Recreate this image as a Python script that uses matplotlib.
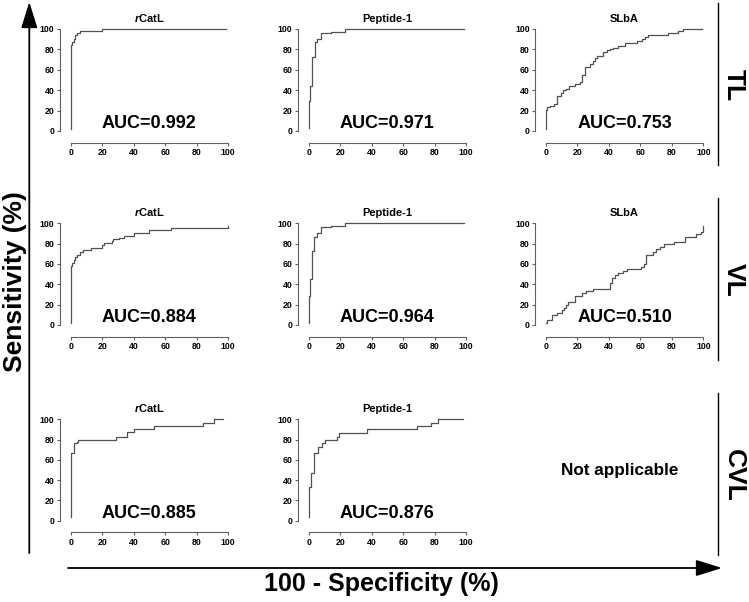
import numpy as np
import matplotlib
matplotlib.use("Agg")
import matplotlib.pyplot as plt
from matplotlib.patches import FancyArrowPatch
from matplotlib.lines import Line2D

plt.rcParams['font.family'] = ['Liberation Sans', 'DejaVu Sans']
plt.rcParams['font.weight'] = 'bold'
plt.rcParams['mathtext.fontset'] = 'custom'
plt.rcParams['mathtext.it'] = 'Liberation Sans:italic:bold'
plt.rcParams['mathtext.rm'] = 'Liberation Sans:bold'

# ROC staircase points (100 - specificity, sensitivity); each point = top of a vertical jump
tl_catl_x = [0, 0, 1, 2, 3, 4, 6, 20, 99]
tl_catl_y = [2, 84, 87, 90, 94, 96, 98, 100, 100]
tl_pep_x = [0, 0, 1, 2, 4, 5, 8, 14, 23, 99]
tl_pep_y = [3, 29, 44, 73, 87, 90, 96, 97.5, 100, 100]
tl_slba_x = [0, 0, 0.8, 2.5, 5.3, 6.8, 9.3, 10.6, 12.7, 14.4, 18.6, 21.6, 22.7, 24.8, 28, 29.7,
             31.4, 32.6, 36.4, 38.6, 40.7, 42.8, 46, 50.2, 57.6, 60.8, 62.9, 65, 77.8, 84, 87.3, 99]
tl_slba_y = [2, 21, 23.6, 25, 26.5, 34, 37, 40, 41, 44, 46, 48, 55, 63, 66, 69,
             72, 74, 77, 79, 80, 81.5, 83, 86.6, 88, 90, 92, 94, 96, 98, 100, 100]

vl_catl_x = [0, 0, 1, 2, 3, 4, 6, 8, 13, 20, 21, 26, 27, 31, 34, 40, 50, 64, 100]
vl_catl_y = [2, 58, 61, 64, 67, 69, 72, 74, 76, 79, 81, 83, 85, 86, 88, 90, 93, 95.5, 97]
vl_pep_x = [0, 0, 1, 2, 3.6, 5, 8, 14, 23, 99]
vl_pep_y = [2, 29, 45, 73, 87, 90, 96, 97.5, 100, 100]
vl_slba_x = [0, 0.8, 3.6, 6.8, 9.9, 11.4, 13, 14.3, 18.4, 22.6, 25.7, 30, 41, 41.8, 43.7, 45.8,
             48.9, 51.5, 60.5, 62, 63.7, 68, 70, 72.6, 75.3, 81.6, 88.6, 95.4, 98.5, 100]
vl_slba_y = [2, 5, 10, 12, 15, 17, 20, 23, 29, 31, 33, 35, 41, 46, 49, 51,
             53, 55, 57, 60, 69, 72, 75, 77, 80, 82, 87, 89, 91, 97]

cvl_catl_x = [0, 0, 2.1, 3.8, 4.8, 29, 35.7, 40, 53, 84, 91, 97]
cvl_catl_y = [4, 66.4, 76.6, 78, 80, 83, 87, 90, 93, 96.7, 100, 100]
cvl_pep_x = [0, 0, 1.7, 3.6, 6.1, 8.3, 10.4, 17.8, 19.5, 37.3, 68.6, 77.5, 82.4, 98]
cvl_pep_y = [4, 33.5, 46.7, 66.4, 73, 76.6, 80, 83, 86.7, 90, 93, 96.7, 100, 100]

titles = [r'$\it{r}$CatL', 'Peptide-1', 'SLbA']
groups = ['TL', 'VL', 'CVL']
auc = [['AUC=0.992', 'AUC=0.971', 'AUC=0.753'],
       ['AUC=0.884', 'AUC=0.964', 'AUC=0.510'],
       ['AUC=0.885', 'AUC=0.876', None]]
curves = [[(tl_catl_x, tl_catl_y), (tl_pep_x, tl_pep_y), (tl_slba_x, tl_slba_y)],
          [(vl_catl_x, vl_catl_y), (vl_pep_x, vl_pep_y), (vl_slba_x, vl_slba_y)],
          [(cvl_catl_x, cvl_catl_y), (cvl_pep_x, cvl_pep_y), None]]

W, H = 749, 602
fig = plt.figure(figsize=(W / 100, H / 100), dpi=100)

col_x0 = [70.7, 308.7, 546]
row_top = [29, 223.3, 419.3]
row_bot = [131, 325, 520.7]
panel_w = 157.3
grey = '#606060'

for r in range(3):
    for c in range(3):
        if curves[r][c] is None:
            continue
        ax = fig.add_axes([col_x0[c] / W, 1 - row_bot[r] / H,
                           panel_w / W, (row_bot[r] - row_top[r]) / H])
        xs, ys = curves[r][c]
        ax.plot(xs, ys, drawstyle='steps-post', color='#505050', lw=0.9, clip_on=False)
        ax.set_xlim(0, 100)
        ax.set_ylim(0, 100)
        ax.set_xticks(np.arange(0, 101, 20))
        ax.set_yticks(np.arange(0, 101, 20))
        for s in ['top', 'right']:
            ax.spines[s].set_visible(False)
        ax.spines['left'].set_position(('outward', 7.7))
        ax.spines['bottom'].set_position(('outward', 8.4))
        for s in ['left', 'bottom']:
            ax.spines[s].set_color(grey)
            ax.spines[s].set_linewidth(0.8)
        ax.tick_params(length=2.5, width=0.8, color=grey, labelsize=6.3, pad=1.5)
        for lab in ax.get_xticklabels() + ax.get_yticklabels():
            lab.set_fontweight('bold')
        ax.patch.set_visible(False)
        ax.set_title(titles[c], fontsize=8, fontweight='bold', pad=5)
        ax.text(50, 7.5, auc[r][c], fontsize=13, fontweight='bold',
                ha='center', va='center')

fig.text(620 / W, 1 - 470 / H, 'Not applicable', fontsize=12.3, fontweight='bold',
         ha='center', va='center')

# row group labels with separators
sep = [(3, 165), (198, 360), (393, 555)]
lab_y = [85, 280, 475]
for g, (y1, y2), ly in zip(groups, sep, lab_y):
    fig.add_artist(Line2D([718 / W, 718 / W], [1 - y1 / H, 1 - y2 / H],
                          color='black', lw=1.0))
    fig.text(734 / W, 1 - ly / H, g, fontsize=19, fontweight='bold', rotation=-90,
             ha='center', va='center')

# big axis arrows
fig.add_artist(FancyArrowPatch((29.3 / W, 1 - 553 / H), (29.3 / W, 1 - 2 / H),
                               transform=fig.transFigure, arrowstyle='-|>,head_length=1.6,head_width=0.5',
                               mutation_scale=10, color='black', lw=1.3, shrinkA=0, shrinkB=0))
fig.add_artist(FancyArrowPatch((68 / W, 1 - 568 / H), (722 / W, 1 - 568 / H),
                               transform=fig.transFigure, arrowstyle='-|>,head_length=1.6,head_width=0.5',
                               mutation_scale=10, color='black', lw=1.3, shrinkA=0, shrinkB=0))

fig.text(15 / W, 1 - 282 / H, 'Sensitivity (%)', fontsize=19, fontweight='bold',
         rotation=90, ha='center', va='center')
fig.text(381 / W, 1 - 584 / H, '100 - Specificity (%)', fontsize=18, fontweight='bold',
         ha='center', va='center')

fig.savefig('out.png', dpi=100)
